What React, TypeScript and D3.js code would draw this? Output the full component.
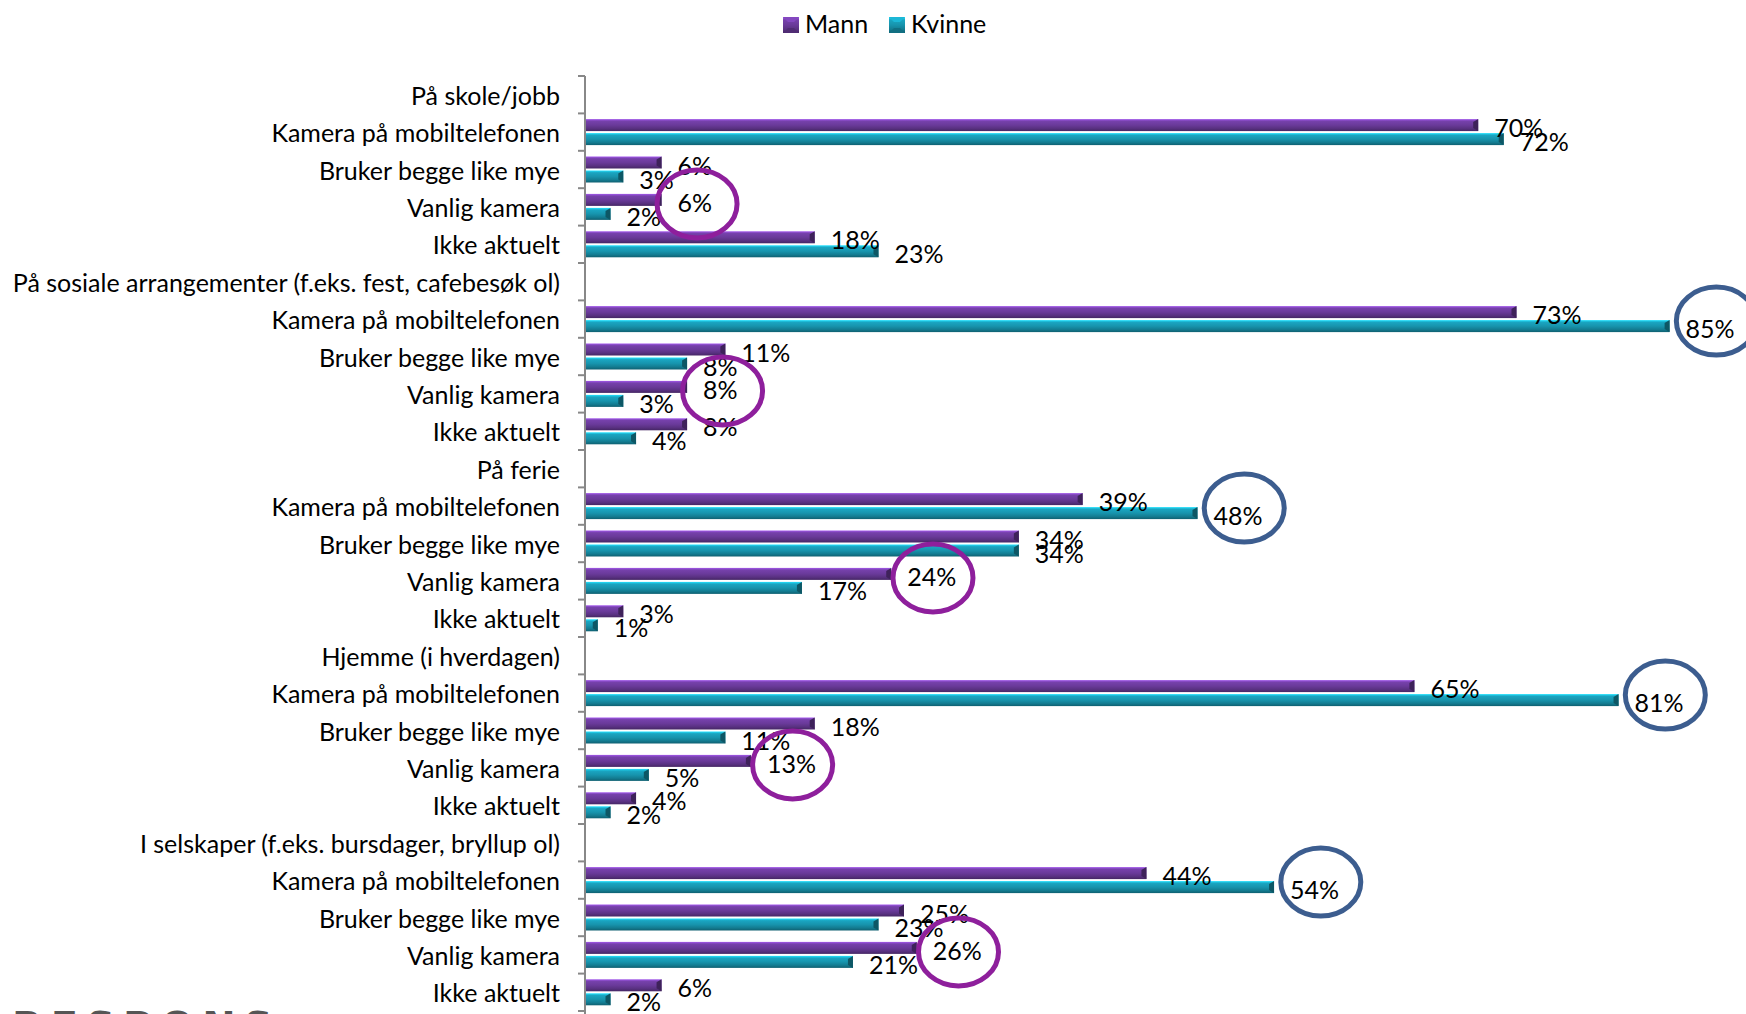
import React from "react";
import * as d3 from "d3";

const groups = [
  "På skole/jobb",
  "På sosiale arrangementer (f.eks. fest, cafebesøk ol)",
  "På ferie",
  "Hjemme (i hverdagen)",
  "I selskaper (f.eks. bursdager, bryllup ol)",
];
const answers = ["Kamera på mobiltelefonen", "Bruker begge like mye", "Vanlig kamera", "Ikke aktuelt"];
const seriesNames = ["Mann", "Kvinne"];
// values per group, per answer
const mann = [
  [70, 6, 6, 18],
  [73, 11, 8, 8],
  [39, 34, 24, 3],
  [65, 18, 13, 4],
  [44, 25, 26, 6],
];
const kvinne = [
  [72, 3, 2, 23],
  [85, 8, 3, 4],
  [48, 34, 17, 1],
  [81, 11, 5, 2],
  [54, 23, 21, 2],
];
// highlighted labels: [groupIndex, answerIndex, seriesIndex]
const highlights: [number, number, number][] = [
  [0, 2, 0],
  [1, 0, 1],
  [1, 2, 0],
  [2, 0, 1],
  [2, 2, 0],
  [3, 0, 1],
  [3, 2, 0],
  [4, 0, 1],
  [4, 2, 0],
];

const W = 1746;
const H = 1014;
const FONT = "Lato, 'Open Sans', sans-serif";
const COLORS = ["#6a3a9a", "#1794ad"];
const RING = ["#8e1f9c", "#3c5d8f"];

type Row = { label: string; header: boolean; g: number; a: number };
const rows: Row[] = [];
groups.forEach((g, gi) => {
  rows.push({ label: g, header: true, g: gi, a: -1 });
  answers.forEach((a, ai) => rows.push({ label: a, header: false, g: gi, a: ai }));
});

export default function App() {
  const y = d3
    .scaleBand<number>()
    .domain(rows.map((_, i) => i))
    .range([76, 76 + 37.4 * rows.length]);
  const x = d3.scaleLinear().domain([0, 100]).range([585, 585 + 1276]);
  const bh = 12;
  const fs = 25;
  const labelW = (s: string) => s.length * fs * 0.5;

  const barY = (i: number, s: number) => {
    const c = (y(i) as number) + y.bandwidth() / 2;
    return s === 0 ? c - 13 : c + 1;
  };
  const val = (r: Row, s: number) => (s === 0 ? mann : kvinne)[r.g][r.a];

  const boundaries = d3.range(rows.length + 1).map((i) => 76 + i * y.bandwidth());
  const dataRows = rows.map((r, i) => ({ r, i })).filter((d) => !d.r.header);

  return (
    <svg width={W} height={H} style={{ position: "absolute", left: 0, top: 0, background: "#fff" }} fontFamily={FONT}>
      <defs>
        {COLORS.map((c, i) => {
          const col = d3.color(c)!;
          return (
            <linearGradient key={i} id={`g${i}`} x1="0" y1="0" x2="0" y2="1">
              <stop offset="0" stopColor={d3.color(c)!.brighter(1.2).formatHex()} />
              <stop offset="0.18" stopColor={d3.color(c)!.brighter(0.3).formatHex()} />
              <stop offset="0.5" stopColor={col.formatHex()} />
              <stop offset="0.78" stopColor={d3.color(c)!.darker(0.5).formatHex()} />
              <stop offset="1" stopColor={d3.color(c)!.darker(1.2).formatHex()} />
            </linearGradient>
          );
        })}
      </defs>

      {/* legend */}
      <g>
        {seriesNames.map((n, i) => {
          const lx = i === 0 ? 783 : 889;
          return (
            <g key={n}>
              <rect x={lx} y={17} width={16} height={16} fill={`url(#g${i})`} />
              <polygon points={`${lx},${17} ${lx + 16},${17} ${lx + 11},${22} ${lx + 5},${22}`} fill={d3.color(COLORS[i])!.brighter(0.6).formatHex()} />
              <polygon points={`${lx},${33} ${lx + 16},${33} ${lx + 11},${28} ${lx + 5},${28}`} fill={d3.color(COLORS[i])!.darker(0.8).formatHex()} />
              <text x={lx + 22} y={23} dominantBaseline="central" fontSize={fs} fill="#000">
                {n}
              </text>
            </g>
          );
        })}
      </g>

      {/* axis */}
      <line x1={585} x2={585} y1={76} y2={H} stroke="#888" strokeWidth={2} />
      {boundaries.map((b, i) => (
        <line key={i} x1={578} x2={585} y1={b} y2={b} stroke="#888" strokeWidth={2} />
      ))}

      {/* category labels */}
      {rows.map((r, i) => (
        <text
          key={i}
          x={560}
          y={(y(i) as number) + y.bandwidth() / 2}
          textAnchor="end"
          dominantBaseline="central"
          fontSize={fs}
          fill="#000"
        >
          {r.label}
        </text>
      ))}

      {/* bars */}
      {dataRows.map(({ r, i }) =>
        [0, 1].map((s) => {
          const v = val(r, s);
          const by = barY(i, s);
          const x0 = x(0) + 1;
          const x1 = x(v);
          const dark = d3.color(COLORS[s])!.darker(1.5).formatHex();
          return (
            <g key={`${i}-${s}`}>
              <rect x={x0} y={by} width={x1 - x0} height={bh} fill={`url(#g${s})`} />
              <polygon
                points={`${x1 - 5},${by + 3} ${x1},${by} ${x1},${by + bh} ${x1 - 5},${by + bh - 3}`}
                fill={dark}
              />
            </g>
          );
        })
      )}

      {/* data labels */}
      {dataRows.map(({ r, i }) =>
        [0, 1].map((s) => {
          const v = val(r, s);
          const by = barY(i, s);
          return (
            <text key={`t${i}-${s}`} x={x(v) + 16} y={by + bh / 2 + 2} dominantBaseline="central" fontSize={fs} fill="#000">
              {`${v}%`}
            </text>
          );
        })
      )}

      {/* highlight rings */}
      {highlights.map(([g, a, s], k) => {
        const i = rows.findIndex((r) => r.g === g && r.a === a);
        const v = (s === 0 ? mann : kvinne)[g][a];
        const cx = x(v) + 16 + labelW(`${v}%`) / 2 + (s === 0 ? 7 : 12);
        const cy = barY(i, s) + bh / 2 + (s === 0 ? 4 : -5);
        return (
          <ellipse key={k} cx={cx} cy={cy} rx={40} ry={34} fill="none" stroke={RING[s]} strokeWidth={5} />
        );
      })}

      {/* logo, cut off at bottom */}
      <text x={12} y={1041} fontSize={40} fontWeight="bold" letterSpacing={8} fill="#555" fontFamily="'DejaVu Sans', sans-serif">
        RESPONS
      </text>
    </svg>
  );
}
